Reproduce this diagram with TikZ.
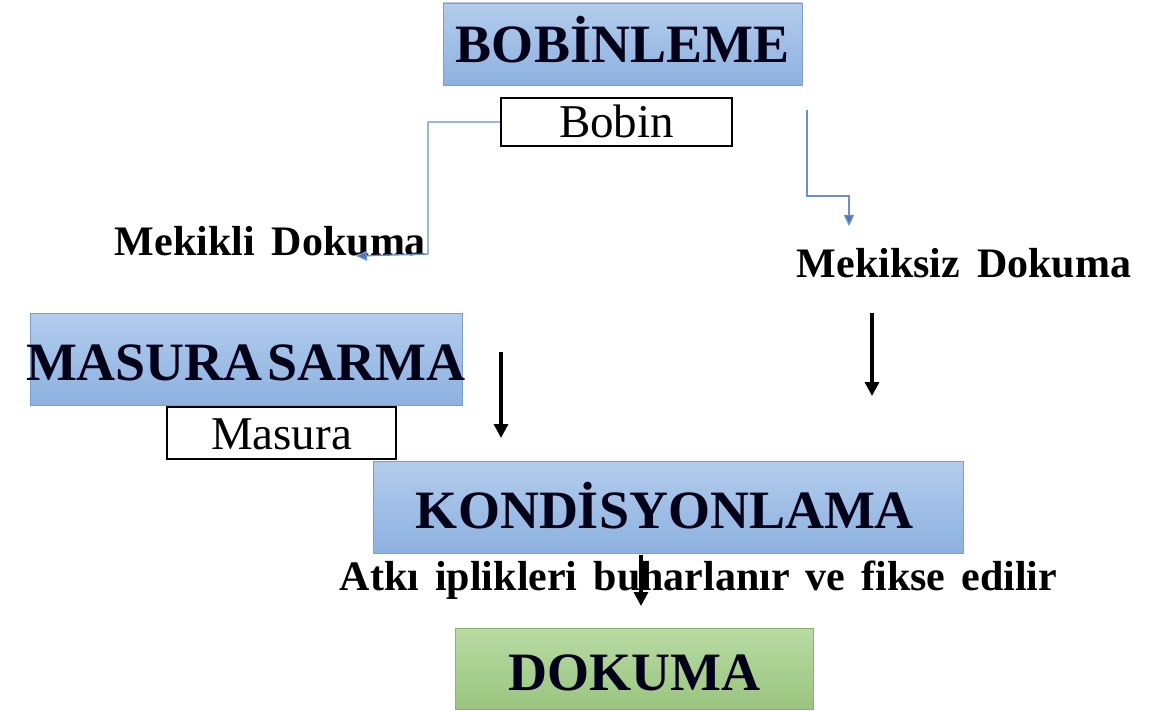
\documentclass[tikz,border=0pt]{standalone}
\usepackage{fontspec}
\setmainfont{Liberation Serif}
\usetikzlibrary{arrows.meta}
\definecolor{bluetop}{HTML}{B3CCEC}
\definecolor{bluebot}{HTML}{8DB1E0}
\definecolor{blueedge}{HTML}{7F9DC8}
\definecolor{greentop}{HTML}{B8DBA3}
\definecolor{greenbot}{HTML}{9AC47F}
\definecolor{greenedge}{HTML}{8AB36E}
\definecolor{conn}{HTML}{4A72B8}
\tikzset{
  bluebox/.style={draw=blueedge, line width=0.8pt, top color=bluetop, bottom color=bluebot, inner sep=0pt},
  greenbox/.style={draw=greenedge, line width=0.8pt, top color=greentop, bottom color=greenbot, inner sep=0pt},
  whitebox/.style={draw=black, line width=1.2pt, fill=white, inner sep=0pt},
  titletext/.style={inner sep=0pt, anchor=base, font=\fontsize{54}{60}\selectfont\bfseries, text=black!90!blue},
  plaintext/.style={inner sep=0pt, anchor=base, font=\fontsize{47}{52}\selectfont},
  sidelabel/.style={inner sep=0pt, anchor=base, font=\fontsize{42}{48}\selectfont\bfseries},
  blueconn/.style={draw=conn!80, line width=1.4pt, -{Triangle[length=11pt,width=10pt,fill=conn]}},
  blackarrow/.style={draw=black, line width=3.2pt, -{Triangle[length=14pt,width=14pt]}}
}
\begin{document}
\begin{tikzpicture}[x=1pt,y=-1pt]
\useasboundingbox (0,0) rectangle (1153,711);
% boxes
\draw[bluebox] (443,3) rectangle (802,85);
\node[titletext] (bob) at (622.5,63) {BOB\.{I}NLEME};
\node[whitebox, minimum width=231pt, minimum height=48pt] (bobin) at (616.5,122) {};
\node[plaintext] at (616.5,138) {Bobin};

\draw[bluebox] (30,313) rectangle (462,405);
\node[titletext] (mas) at (246,380) {MASURA\hspace{5pt}SARMA};
\node[whitebox, minimum width=229pt, minimum height=52pt] (masura) at (281.5,433) {};
\node[plaintext] at (281.5,449) {Masura};

\draw[bluebox] (373,461) rectangle (963,553);
\node[titletext] (kond) at (665,528) {KOND\.{I}SYONLAMA};

\node[sidelabel] (atki) at (698.5,590) {\spaceskip=16pt Atkı iplikleri buharlanır ve fikse edilir};

\draw[greenbox] (455,628) rectangle (813,709);
\node[titletext] (dok) at (634,690) {DOKUMA};

% side labels
\node[sidelabel] (mekikli) at (270.5,255) {\spaceskip=17pt Mekikli Dokuma};
\node[sidelabel] (mekiksiz) at (964,277) {\spaceskip=17pt Mekiksiz Dokuma};

% blue connectors
\coordinate (lc1) at (428,122);
\coordinate (lc2) at (428,254);
\coordinate (lc3) at (356,256);
\draw[blueconn] (bobin.west) -- (lc1) -- (lc2) -- (lc3);
\coordinate (rc0) at (807,110);
\coordinate (rc1) at (807,196);
\coordinate (rc2) at (849,196);
\coordinate (rc3) at (849,226);
\draw[blueconn] (rc0) -- (rc1) -- (rc2) -- (rc3);

% black arrows
\coordinate (a1s) at (501,352);
\coordinate (a1e) at (501,438);
\draw[blackarrow] (a1s) -- (a1e);
\coordinate (a2s) at (872,313);
\coordinate (a2e) at (872,396);
\draw[blackarrow] (a2s) -- (a2e);
\coordinate (a3s) at (641,555);
\coordinate (a3e) at (641,606);
\draw[blackarrow] (a3s) -- (a3e);
\end{tikzpicture}
\end{document}
